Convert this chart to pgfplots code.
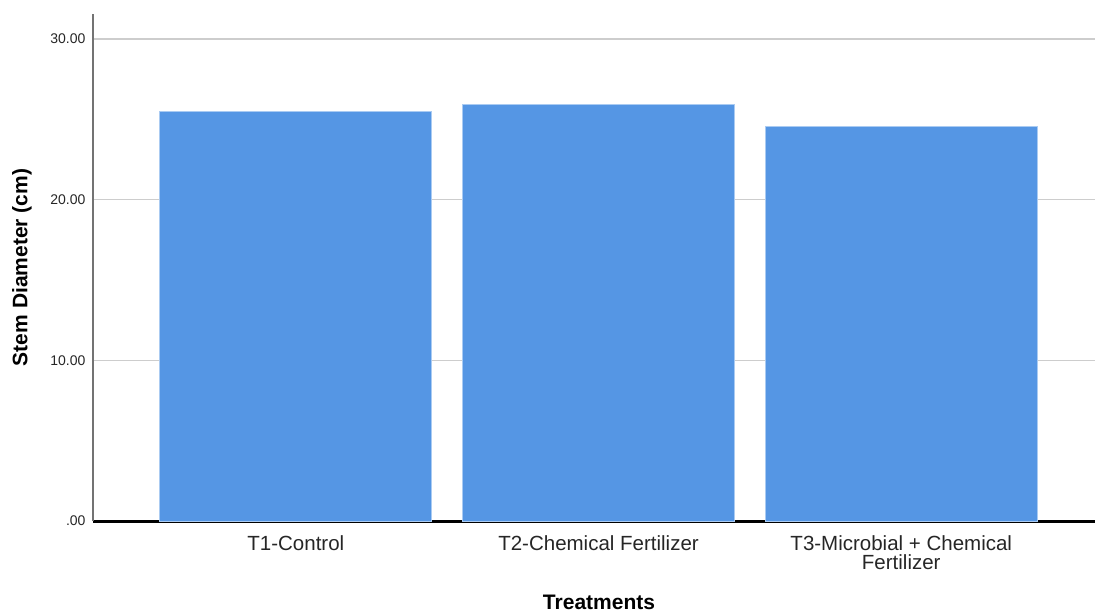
\documentclass[border=0pt]{standalone}
\usepackage{pgfplots}
\pgfplotsset{compat=1.18}
\usepackage{fontspec}
\setmainfont{Liberation Sans}
\definecolor{barblue}{RGB}{85,150,228}
\definecolor{gridgray}{RGB}{205,205,205}
\begin{document}
\begin{tikzpicture}[x=1pt,y=1pt]
\useasboundingbox (-93,-93) rectangle (1002,521);
\begin{axis}[
  at={(0,0)}, anchor=south west,
  scale only axis, width=1002pt, height=507pt,
  xmin=-0.67, xmax=2.64, ymin=0, ymax=31.56,
  axis y line*=left, axis x line*=bottom,
  x axis line style={black, line width=3pt, -},
  y axis line style={black!55, line width=1.6pt, -},
  xtick={0,1,2},
  xticklabels={T1-Control, T2-Chemical Fertilizer, {T3-Microbial + Chemical\\Fertilizer}},
  xticklabel style={align=center, font=\fontsize{20.5}{19}\selectfont, text=black!85, yshift=-11pt},
  ytick={0,10,20,30},
  yticklabels={.00,10.00,20.00,30.00},
  yticklabel style={font=\fontsize{14}{14}\selectfont, text=black!85, xshift=-4pt},
  ymajorgrids, grid style={gridgray, line width=1.2pt},
  major tick length=0pt,
  xlabel={\textbf{Treatments}},
  xlabel style={font=\fontsize{21}{21}\selectfont, at={(axis description cs:0.505,0)}, anchor=base, yshift=-88pt},
  ylabel={\textbf{Stem Diameter (cm)}},
  ylabel style={font=\fontsize{21}{21}\selectfont, at={(axis description cs:0,0.5)}, anchor=center, yshift=71pt},
]
\addplot[ybar, bar width=272pt, fill=barblue, draw=barblue!50!white, line width=1pt] coordinates {(0,25.52) (1,25.95) (2,24.58)};
\end{axis}
\end{tikzpicture}
\end{document}
